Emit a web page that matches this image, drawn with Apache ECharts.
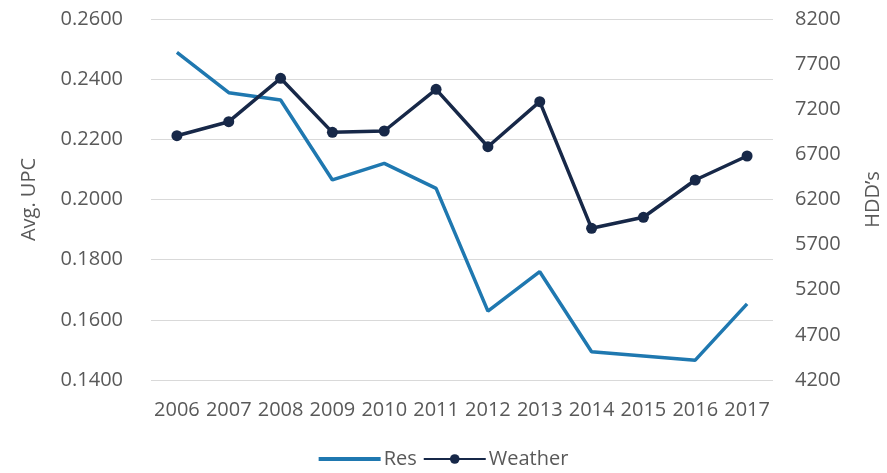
<!DOCTYPE html>
<html><head><meta charset="utf-8">
<script src="https://cdn.jsdelivr.net/npm/echarts@6/dist/echarts.min.js"></script>
<style>html,body{margin:0;padding:0;background:#fff}#c{width:887px;height:473px}</style>
</head><body><div id="c"></div>
<script>
const categories = ['2006','2007','2008','2009','2010','2011','2012','2013','2014','2015','2016','2017'];
const resValues = [0.2489,0.2355,0.2331,0.2065,0.2120,0.2037,0.1629,0.1760,0.1494,0.1480,0.1466,0.1653];
const weatherValues = [6907,7062,7543,6944,6959,7421,6785,7284,5881,6003,6416,6682];
const leftTicks = [0.14,0.16,0.18,0.20,0.22,0.24,0.26];
const rightTicks = [4200,4700,5200,5700,6200,6700,7200,7700,8200];
const FONT = '"Open Sans", "Noto Sans", sans-serif';
const GREY = '#595959';
const chart = echarts.init(document.getElementById('c'), null, {renderer:'canvas'});
chart.setOption({
  animation:false,
  textStyle:{fontFamily:FONT},
  grid:{left:151,right:114,top:19,bottom:93,outerBoundsMode:'none',containLabel:false},
  legend:{
    bottom:-1, left:'center', itemWidth:62, itemHeight:12, itemGap:6,
    textStyle:{fontFamily:FONT,fontSize:20,color:GREY,padding:[0,0,0,-2]},
    data:[{name:'Res',icon:'path://M0,0H60V4H0Z'},{name:'Weather'}]
  },
  xAxis:{
    type:'category', data:categories, boundaryGap:true,
    axisLine:{show:false}, axisTick:{show:false},
    axisLabel:{interval:0,fontFamily:FONT,fontSize:20,color:GREY,margin:20}
  },
  yAxis:[{
    type:'value', min:0.14, max:0.26, interval:0.02,
    name:'Avg. UPC', nameLocation:'middle', nameGap:112, nameRotate:90,
    nameTextStyle:{fontFamily:FONT,fontSize:20,color:GREY},
    axisLine:{show:false}, axisTick:{show:false},
    axisLabel:{customValues:leftTicks,fontFamily:FONT,fontSize:20,color:GREY,margin:28,
      formatter:v=>v.toFixed(4)},
    splitLine:{lineStyle:{color:'#d9d9d9',width:1}}
  },{
    type:'value', min:4200, max:8200,
    name:"HDD’s", nameLocation:'middle', nameGap:90, nameRotate:90,
    nameTextStyle:{fontFamily:FONT,fontSize:20,color:GREY},
    axisLine:{show:false}, axisTick:{show:false},
    axisLabel:{customValues:rightTicks,fontFamily:FONT,fontSize:20,color:GREY,margin:22,
      formatter:v=>String(v)},
    splitLine:{show:false}
  }],
  series:[{
    name:'Res', type:'line', data:resValues, yAxisIndex:0,
    symbol:'none', lineStyle:{color:'#1f78b0',width:3.5}, itemStyle:{color:'#1f78b0'}
  },{
    name:'Weather', type:'line', data:weatherValues, yAxisIndex:1,
    symbol:'circle', symbolSize:11, lineStyle:{color:'#172848',width:3.5},
    itemStyle:{color:'#172848'}
  }]
});
</script></body></html>
